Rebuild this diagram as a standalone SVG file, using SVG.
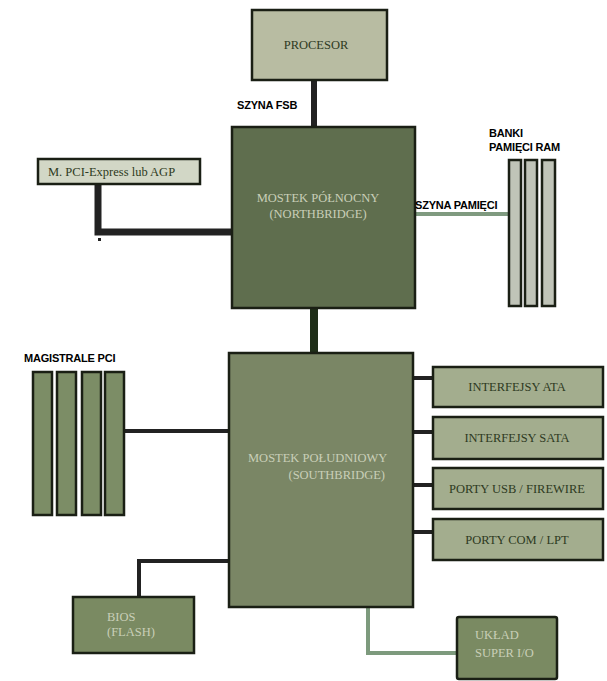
<svg xmlns="http://www.w3.org/2000/svg" width="607" height="681" viewBox="0 0 607 681">
<style>
.box{stroke:#1a1f14;stroke-width:2.5}
.t{font-family:"Liberation Serif",serif;font-size:12.5px}
.lbl{font-family:"Liberation Sans",sans-serif;font-size:11px;font-weight:bold;fill:#000;letter-spacing:-0.2px}
.dark{fill:#2e3a22}
.light{fill:#c9cfb8}
.ln{stroke:#222;fill:none}
</style>
<rect width="607" height="681" fill="#fff"/>
<g id="connectors">
<line class="ln" x1="314" y1="80" x2="314" y2="128" stroke-width="6"/>
<polyline class="ln" points="98,184 98,232 232,232" stroke-width="7"/>
<rect x="98" y="238" width="3" height="3" fill="#222"/>
<line x1="415" y1="214" x2="509" y2="214" stroke="#7f9a7f" stroke-width="4"/>
<line x1="314" y1="308" x2="314" y2="354" stroke="#1f2e18" stroke-width="8"/>
<line class="ln" x1="124" y1="431" x2="229" y2="431" stroke-width="4"/>
<line class="ln" x1="413" y1="378" x2="433" y2="378" stroke-width="4"/>
<line class="ln" x1="413" y1="432" x2="433" y2="432" stroke-width="4"/>
<line class="ln" x1="413" y1="485" x2="433" y2="485" stroke-width="4"/>
<line class="ln" x1="413" y1="532" x2="433" y2="532" stroke-width="4"/>
<polyline class="ln" points="139,597 139,561 229,561" stroke-width="4"/>
<polyline points="368,607 368,653 457,653" fill="none" stroke="#7d9a7d" stroke-width="4"/>
</g>
<g id="procesor">
<rect class="box" x="252" y="10" width="135" height="70" fill="#b8bca2"/>
<text class="t dark" x="316" y="49" text-anchor="middle">PROCESOR</text>
</g>
<text class="lbl" x="237" y="109">SZYNA FSB</text>
<g id="agp">
<rect class="box" x="38" y="159" width="162" height="25" fill="#d2d7c6"/>
<text class="t dark" x="48" y="176">M. PCI-Express lub AGP</text>
</g>
<g id="northbridge">
<rect class="box" x="232" y="127" width="183" height="181" fill="#5f6e4e"/>
<text class="t light" x="318" y="202" text-anchor="middle">MOSTEK PÓŁNOCNY</text>
<text class="t light" x="318" y="218" text-anchor="middle">(NORTHBRIDGE)</text>
</g>
<text class="lbl" x="415" y="209">SZYNA PAMIĘCI</text>
<g id="ram">
<text class="lbl" x="489" y="137">BANKI</text>
<text class="lbl" x="489" y="151">PAMIĘCI RAM</text>
<rect class="box" x="509" y="160" width="12" height="146" fill="#c0c4b8"/>
<rect class="box" x="525" y="160" width="12" height="146" fill="#c0c4b8"/>
<rect class="box" x="542" y="160" width="13" height="146" fill="#c0c4b8"/>
</g>
<g id="southbridge">
<rect class="box" x="229" y="353" width="184" height="254" fill="#7a8665"/>
<text class="t light" x="248" y="462">MOSTEK POŁUDNIOWY</text>
<text class="t light" x="385" y="479" text-anchor="end">(SOUTHBRIDGE)</text>
</g>
<g id="pci">
<text class="lbl" x="24" y="362">MAGISTRALE PCI</text>
<rect class="box" x="33" y="372" width="19" height="143" fill="#7c8d66"/>
<rect class="box" x="57" y="372" width="19" height="143" fill="#7c8d66"/>
<rect class="box" x="82" y="372" width="19" height="143" fill="#7c8d66"/>
<rect class="box" x="105" y="372" width="19" height="143" fill="#7c8d66"/>
</g>
<g id="ata">
<rect class="box" x="433" y="367" width="170" height="40" fill="#a3ad8e"/>
<text class="t dark" x="517" y="391" text-anchor="middle">INTERFEJSY ATA</text>
</g>
<g id="sata">
<rect class="box" x="433" y="417" width="170" height="42" fill="#a3ad8e"/>
<text class="t dark" x="517" y="442" text-anchor="middle">INTERFEJSY SATA</text>
</g>
<g id="usb">
<rect class="box" x="433" y="468" width="170" height="41" fill="#a3ad8e"/>
<text class="t dark" x="517" y="493" text-anchor="middle">PORTY USB / FIREWIRE</text>
</g>
<g id="com">
<rect class="box" x="433" y="519" width="170" height="41" fill="#a3ad8e"/>
<text class="t dark" x="517" y="544" text-anchor="middle">PORTY COM / LPT</text>
</g>
<g id="bios">
<rect class="box" x="73" y="597" width="121" height="56" fill="#7a8a62"/>
<text class="t light" x="107" y="621">BIOS</text>
<text class="t light" x="107" y="636">(FLASH)</text>
</g>
<g id="superio">
<rect class="box" x="457" y="617" width="100" height="62" rx="2" fill="#7a8a62"/>
<text class="t light" x="475" y="639">UKŁAD</text>
<text class="t light" x="475" y="657">SUPER I/O</text>
</g>
</svg>
